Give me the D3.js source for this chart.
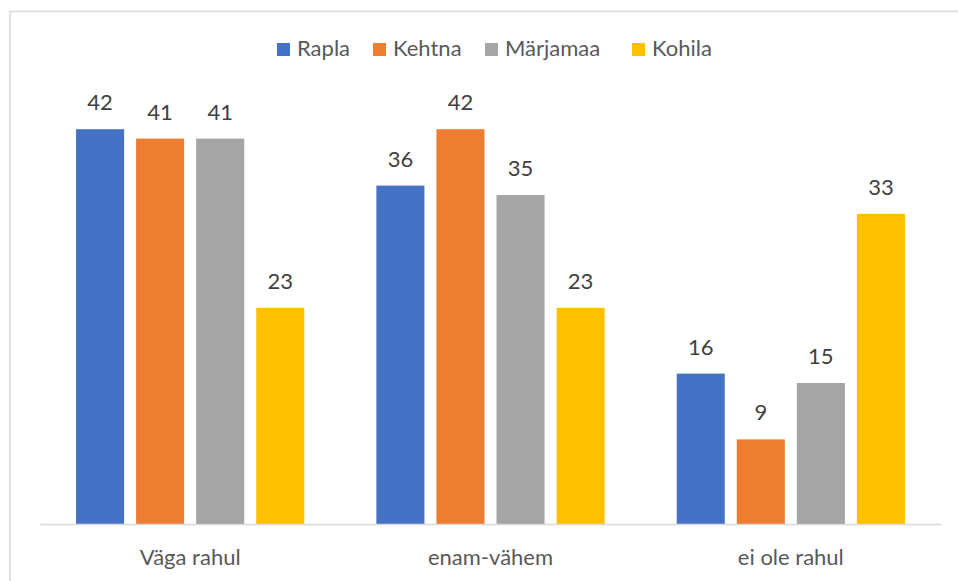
<!DOCTYPE html>
<html>
<head>
<meta charset="utf-8">
<script src="https://cdn.jsdelivr.net/npm/d3@7"></script>
<style>
  html, body { margin: 0; padding: 0; background: #fff; }
  svg { display: block; }
  text { font-family: Lato, "Open Sans", sans-serif; fill: #595959; }
</style>
</head>
<body>
<svg id="chart" width="958" height="581"></svg>
<script>
const categories = ["Väga rahul", "enam-vähem", "ei ole rahul"];
const seriesNames = ["Rapla", "Kehtna", "Märjamaa", "Kohila"];
const seriesColors = ["#4472c4", "#ed7d31", "#a5a5a5", "#ffc000"];
const rapla = [42, 36, 16];
const kehtna = [41, 42, 9];
const marjamaa = [41, 35, 15];
const kohila = [23, 23, 33];
const seriesValues = [rapla, kehtna, marjamaa, kohila];
const yMax = 45;

const svg = d3.select("#chart");
const W = 958, H = 581;
const plot = { left: 40, right: 941, top: 101, bottom: 524 };

// chart border
svg.append("rect")
  .attr("x", 10).attr("y", 11.5)
  .attr("width", W + 20).attr("height", H + 20)
  .attr("fill", "none").attr("stroke", "#d9d9d9").attr("stroke-width", 1.5);

const x0 = d3.scaleBand().domain(categories)
  .range([plot.left, plot.right]).paddingInner(0.24).paddingOuter(0.12);
const x1 = d3.scaleBand().domain(seriesNames)
  .range([0, x0.bandwidth()]).paddingInner(0.2).paddingOuter(0);
const y = d3.scaleLinear().domain([0, yMax]).range([plot.bottom, plot.top]);
const color = d3.scaleOrdinal().domain(seriesNames).range(seriesColors);

const data = [];
categories.forEach((c, i) => {
  seriesNames.forEach((s, j) => {
    data.push({ cat: c, series: s, value: seriesValues[j][i] });
  });
});

svg.append("g").selectAll("rect").data(data).join("rect")
  .attr("x", d => x0(d.cat) + x1(d.series))
  .attr("y", d => y(d.value))
  .attr("width", x1.bandwidth())
  .attr("height", d => y(0) - y(d.value))
  .attr("fill", d => color(d.series));

svg.append("g").selectAll("text").data(data).join("text")
  .attr("x", d => x0(d.cat) + x1(d.series) + x1.bandwidth() / 2)
  .attr("y", d => y(d.value) - 19)
  .attr("text-anchor", "middle")
  .style("font-size", "22px")
  .style("fill", "#404040")
  .text(d => d.value);

// x axis
const xAxis = d3.axisBottom(x0).tickSize(0).tickPadding(0);
const gx = svg.append("g").attr("transform", `translate(0,${plot.bottom})`).call(xAxis);
gx.select(".domain").attr("stroke", "#d9d9d9").attr("stroke-width", 1.5);
gx.selectAll(".tick text")
  .attr("y", 41)
  .attr("dy", 0)
  .style("font-size", "22px")
  .style("font-family", "Lato, 'Open Sans', sans-serif")
  .attr("fill", "#595959");

// legend
const legendX = [277, 373, 485, 632];
const lg = svg.append("g");
seriesNames.forEach((s, i) => {
  const g = lg.append("g").attr("transform", `translate(${legendX[i]},0)`);
  g.append("rect").attr("x", 0).attr("y", 43).attr("width", 13).attr("height", 13)
    .attr("fill", seriesColors[i]);
  g.append("text").attr("x", 20).attr("y", 56)
    .style("font-size", "22px").text(s);
});
</script>
</body>
</html>
